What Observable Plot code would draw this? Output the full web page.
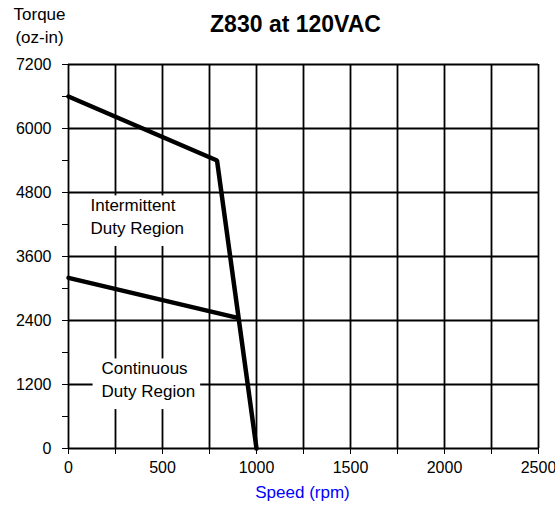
<!DOCTYPE html>
<html><head><meta charset="utf-8">
<script src="https://cdn.jsdelivr.net/npm/d3@7"></script>
<script src="https://cdn.jsdelivr.net/npm/@observablehq/plot@0.6"></script>
<style>
body{margin:0;background:#fff;font-family:"Liberation Sans",Arial,sans-serif}
</style>
</head><body><div id="chart"></div>
<script>
const title = "Z830 at 120VAC";
const yLabelLine1 = "Torque";
const yLabelLine2 = "(oz-in)";
const xLabel = "Speed (rpm)";
const xTickValues = [0,250,500,750,1000,1250,1500,1750,2000,2250,2500];
const xTickLabels = [0,500,1000,1500,2000,2500];
const yTickValues = [0,600,1200,1800,2400,3000,3600,4200,4800,5400,6000,6600,7200];
const yTickLabels = [0,1200,2400,3600,4800,6000,7200];
const intermittentSpeed = [0,790,1000];
const intermittentTorque = [6600,5400,0];
const continuousSpeed = [0,900];
const continuousTorque = [3200,2450];
const regionLabels = ["Intermittent\nDuty Region","Continuous\nDuty Region"];
const regionSpeed = [117,176];
const regionTorque = [4370,1312];

const inter = intermittentSpeed.map((s,i)=>({speed:s, torque:intermittentTorque[i]}));
const cont = continuousSpeed.map((s,i)=>({speed:s, torque:continuousTorque[i]}));
const regions = regionLabels.map((t,i)=>({text:t, speed:regionSpeed[i], torque:regionTorque[i]}));

const chart = Plot.plot({
  width:555, height:506,
  marginLeft:68, marginRight:17, marginTop:64, marginBottom:58,
  style:{fontFamily:'"Liberation Sans",Arial,sans-serif', fontSize:"16px", color:"black", background:"white", overflow:"visible"},
  x:{domain:[0,2500], ticks:xTickValues, tickFormat:d=>xTickLabels.includes(d)?String(d):"", tickSize:6, tickPadding:7, label:null},
  y:{domain:[0,7200], ticks:yTickValues, tickFormat:d=>yTickLabels.includes(d)?String(d):"", tickSize:6, tickPadding:11, label:null},
  marks:[
    Plot.ruleX(xTickValues, {stroke:"black", strokeWidth:1.8}),
    Plot.ruleY(yTickLabels, {stroke:"black", strokeWidth:1.8}),
    Plot.line(inter, {x:"speed", y:"torque", stroke:"black", strokeWidth:4.5, strokeLinejoin:"miter"}),
    Plot.line(cont, {x:"speed", y:"torque", stroke:"black", strokeWidth:4.5}),
    Plot.text(regions, {x:"speed", y:"torque", text:"text", textAnchor:"start", lineAnchor:"middle", lineHeight:1.33, fontSize:17, fill:"black"}),
    Plot.text([title], {frameAnchor:"top", dx:-8, dy:-40, lineAnchor:"middle", textAnchor:"middle", fontWeight:"bold", fontSize:23, fill:"black"}),
    Plot.text([yLabelLine1], {frameAnchor:"top-left", dx:-29, dy:-50, lineAnchor:"middle", textAnchor:"middle", fontSize:17, fill:"black"}),
    Plot.text([yLabelLine2], {frameAnchor:"top-left", dx:-29, dy:-27, lineAnchor:"middle", textAnchor:"middle", fontSize:17, fill:"black"}),
    Plot.text([xLabel], {frameAnchor:"bottom", dx:-1, dy:44, lineAnchor:"middle", textAnchor:"middle", fontSize:17, fill:"blue"})
  ]
});
document.getElementById("chart").appendChild(chart);
const svg = chart.tagName.toLowerCase()==="svg" ? chart : chart.querySelector("svg");
svg.querySelectorAll("text").forEach(t=>{
  if (t.textContent.includes("Duty")) {
    const b = t.getBBox();
    const r = document.createElementNS("http://www.w3.org/2000/svg","rect");
    r.setAttribute("x", b.x-9); r.setAttribute("y", b.y-1);
    r.setAttribute("width", b.width+14); r.setAttribute("height", b.height+9);
    r.setAttribute("fill","white");
    const tr = t.getAttribute("transform");
    if (tr) r.setAttribute("transform", tr);
    t.parentNode.insertBefore(r, t);
  }
});
</script>
</body></html>
